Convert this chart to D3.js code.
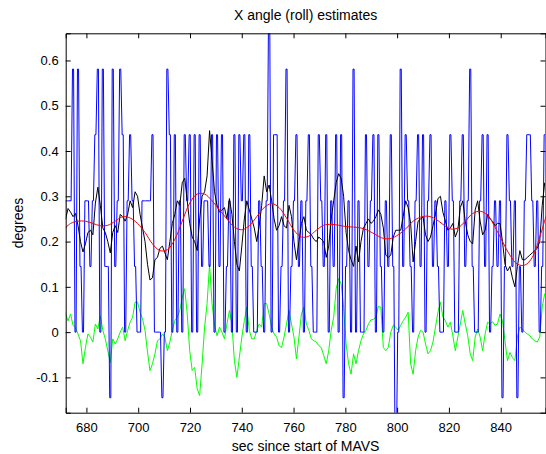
<!DOCTYPE html>
<html>
<head>
<meta charset="utf-8">
<script src="https://cdn.jsdelivr.net/npm/d3@7"></script>
<style>
  html, body { margin: 0; padding: 0; background: #fff; }
  svg { display: block; }
  text { font-family: "Liberation Sans", Arial, Helvetica, sans-serif; }
</style>
</head>
<body>
<svg id="chart" width="546" height="454"></svg>
<script>
// ---------------- data ----------------
const titleText = "X angle (roll) estimates";
const xLabelText = "sec since start of MAVS";
const yLabelText = "degrees";

const xTicks = [680, 700, 720, 740, 760, 780, 800, 820, 840];
const yTicks = [-0.1, 0, 0.1, 0.2, 0.3, 0.4, 0.5, 0.6];
const xRange = [672, 857.3];
const yRange = [-0.178, 0.66];

// sample timing of the raw / filtered series (seconds)
const sampleStart = 671.0;
const sampleStep = 0.9587;

// raw quantised estimate (blue)
const rawRoll = [
 0.145,0.29,0.29,0.29,0.581,0,0.581,0.145,0,0.29,
 0.29,0.145,0.29,0.436,0.581,0,0.581,0.145,0.145,-0.145,
 0.581,0.145,0.29,0.581,0.436,0,0.29,0.436,0.29,0.145,
 0,0,0.29,0.29,0.29,0.29,0.436,0,0,0,
 -0.145,0,0.581,0.436,0,0.436,0,0.29,0,0.436,
 0.29,0.436,0,0.436,0,0.436,0.145,0.29,0.29,0.145,
 0.436,0,0.436,0.145,0.436,0,0.145,0.29,0,0.436,
 0,0.436,0.29,0.436,0,0.436,0.145,0,0,0.29,
 0.145,0,0.29,0.726,0,0.436,0.436,0,0.145,0.29,
 0.581,0,0.145,0.29,0.436,0.145,0.29,0,0.29,0.436,
 0.145,0,0,0.436,0.29,0.145,0.436,0,0.29,0.145,
 0.436,0,0.436,-0.145,0.145,0.29,0,0.581,0,0.29,
 0,0,0.436,0.145,0.29,0.436,0,0.436,0.145,0,
 0.29,0.145,0.436,0.145,-0.29,0,0.581,0.145,0.436,0.29,
 0.145,0,0.29,0.436,0.145,0.436,0,0.29,0.436,0.145,
 0.29,0.145,0,0,0.29,0.145,0.436,0.29,0,0,
 0.29,0.436,0.145,0.29,0.581,0.145,0,0,0.29,0.436,
 0.145,0.436,0,0.145,0.29,0.145,0.29,-0.145,0.145,0.436,
 0.29,0.145,0.29,-0.145,0.145,0,0.29,0.436,0.436,0.29,
 0.145,0.29,0,0.145,0.436
];

// filtered estimate (black)
const filtRoll = [
 0.248,0.25,0.273,0.265,0.255,0.262,0.235,0.2,0.177,0.195,
 0.22,0.225,0.215,0.285,0.32,0.28,0.23,0.22,0.2,0.175,
 0.22,0.235,0.22,0.26,0.255,0.245,0.26,0.29,0.275,0.31,
 0.3,0.26,0.23,0.2,0.15,0.115,0.12,0.16,0.165,0.185,
 0.19,0.175,0.16,0.2,0.24,0.26,0.29,0.28,0.33,0.34,
 0.29,0.24,0.21,0.2,0.18,0.25,0.3,0.31,0.345,0.445,
 0.38,0.31,0.28,0.265,0.27,0.275,0.25,0.295,0.26,0.2,
 0.15,0.135,0.19,0.25,0.29,0.27,0.25,0.23,0.2,0.235,
 0.28,0.345,0.31,0.325,0.29,0.25,0.225,0.235,0.255,0.235,
 0.23,0.28,0.255,0.2,0.16,0.2,0.24,0.255,0.225,0.22,
 0.215,0.205,0.2,0.21,0.205,0.2,0.165,0.19,0.25,0.29,
 0.33,0.35,0.34,0.3,0.22,0.18,0.16,0.145,0.19,0.155,
 0.2,0.23,0.24,0.25,0.24,0.245,0.255,0.27,0.26,0.23,
 0.17,0.165,0.17,0.21,0.225,0.225,0.225,0.255,0.29,0.275,
 0.24,0.155,0.2,0.245,0.25,0.255,0.215,0.2,0.21,0.235,
 0.26,0.295,0.3,0.265,0.245,0.225,0.23,0.24,0.21,0.225,
 0.275,0.29,0.245,0.215,0.2,0.195,0.27,0.29,0.245,0.215,
 0.225,0.26,0.25,0.245,0.235,0.24,0.24,0.2,0.15,0.135,
 0.145,0.12,0.1,0.145,0.18,0.16,0.16,0.165,0.17,0.175,
 0.18,0.185,0.2,0.28,0.33
];

// difference / residual (green)
const residRoll = [
 0.055,0.04,0.025,0.04,0.015,0.01,-0.004,-0.019,-0.07,-0.034,
 -0.004,-0.011,-0.022,0.018,0.007,0.036,0.004,-0.015,-0.041,-0.067,
 -0.015,-0.026,-0.015,0,0.011,-0.019,0.004,0.022,0.033,0.066,
 0.066,0.044,0.029,0.004,-0.044,-0.085,-0.07,-0.048,-0.019,-0.015,
 -0.004,-0.011,-0.041,-0.022,0.004,0.025,0.033,0.048,0.077,0.096,
 0.04,-0.041,-0.085,-0.078,-0.125,-0.14,-0.07,0.011,0.063,0.15,
 0.063,0.015,-0.008,0.011,0,-0.015,0.018,0.048,0.018,-0.063,
 -0.1,-0.056,-0.011,0.025,0.055,0.004,-0.015,-0.015,0.004,0.018,
 0.011,0.063,0.063,0.04,0.011,-0.004,-0.011,-0.03,-0.034,-0.011,
 0.018,0.048,0.018,-0.011,-0.059,-0.011,0.04,0.055,0.018,0.004,
 -0.015,-0.019,-0.022,-0.03,-0.034,-0.052,-0.07,-0.041,0.004,0.033,
 0.096,0.118,0.107,0.055,-0.026,-0.07,-0.093,-0.048,-0.07,-0.041,
 -0.019,-0.004,0.004,0.018,0.027,0.028,0.033,0.057,0.055,-0.034,
 -0.041,-0.034,0,0.015,0.011,0.004,0.015,0.025,0.033,0.044,
 -0.07,-0.093,-0.041,-0.011,0.004,0,-0.026,-0.048,-0.041,-0.022,
 0.011,0.044,0.066,0.033,0.025,0.011,0.022,-0.008,-0.041,-0.011,
 0.018,0.048,0.018,-0.008,-0.048,-0.063,-0.011,0.007,-0.011,-0.041,
 -0.004,0.022,0.018,0.023,0.015,0.018,0.04,0.025,-0.019,-0.063,
 -0.045,-0.056,-0.063,-0.011,0.011,0.007,0,-0.004,-0.008,-0.015,
 -0.019,-0.022,-0.011,0.055,0.085
];

// smoothed estimate (red), one knot every 3 samples
const smoothRoll = [
 0.225,0.24,0.245,0.245,0.24,0.235,0.236,0.245,0.255,0.252,
 0.24,0.22,0.195,0.18,0.182,0.205,0.245,0.285,0.305,0.305,
 0.29,0.27,0.25,0.232,0.226,0.235,0.255,0.275,0.284,0.275,
 0.252,0.225,0.21,0.212,0.225,0.236,0.238,0.236,0.233,0.232,
 0.23,0.224,0.215,0.207,0.207,0.215,0.228,0.245,0.254,0.256,
 0.25,0.238,0.228,0.23,0.245,0.262,0.267,0.258,0.232,0.2,
 0.17,0.15,0.148,0.165,0.21,0.265
];
const smoothKnotEvery = 3;

// ---------------- drawing ----------------
const plot = { left: 65.7, right: 545.5, top: 33.3, bottom: 412.7 };

const svg = d3.select("#chart");
const x = d3.scaleLinear().domain(xRange).range([plot.left, plot.right]);
const y = d3.scaleLinear().domain(yRange).range([plot.bottom, plot.top]);

svg.append("defs").append("clipPath").attr("id", "clip")
  .append("rect")
  .attr("x", plot.left).attr("y", plot.top)
  .attr("width", plot.right - plot.left).attr("height", plot.bottom - plot.top);

const tOf = i => sampleStart + i * sampleStep;
const filtPts = filtRoll.map((v, i) => [tOf(i), v]);
const residPts = residRoll.map((v, i) => [tOf(i), v]);
const smoothPts = smoothRoll.map((v, k) => [tOf(k * smoothKnotEvery), v]);
// each raw sample is held for a short plateau around its sample time
const hold = 0.22 * sampleStep;
const rawPts = rawRoll.flatMap((v, i) => [[tOf(i) - hold, v], [tOf(i) + hold, v]]);

const g = svg.append("g").attr("clip-path", "url(#clip)");

const lineLin = d3.line().x(d => x(d[0])).y(d => y(d[1]));
const lineSmooth = d3.line().x(d => x(d[0])).y(d => y(d[1])).curve(d3.curveCatmullRom);

g.append("path").datum(residPts).attr("d", lineLin)
  .attr("fill", "none").attr("stroke", "#00ff00").attr("stroke-width", 1);
g.append("path").datum(rawPts).attr("d", lineLin)
  .attr("fill", "none").attr("stroke", "#0000ff").attr("stroke-width", 1)
  .attr("stroke-linejoin", "miter").attr("stroke-miterlimit", 2);
g.append("path").datum(filtPts).attr("d", lineLin)
  .attr("fill", "none").attr("stroke", "#000000").attr("stroke-width", 1);
g.append("path").datum(smoothPts).attr("d", lineSmooth)
  .attr("fill", "none").attr("stroke", "#ff0000").attr("stroke-width", 1);

// axes (MATLAB style: inward ticks, full box)
const fmtY = d => (Math.abs(d) < 1e-9 ? "0" : (d < 0 ? "-" : "") + Math.abs(d).toFixed(1));

const axB = svg.append("g").attr("transform", `translate(0,${plot.bottom})`)
  .call(d3.axisBottom(x).tickValues(xTicks).tickSize(-5).tickPadding(10).tickFormat(d3.format("d")));
const axT = svg.append("g").attr("transform", `translate(0,${plot.top})`)
  .call(d3.axisTop(x).tickValues(xTicks).tickSize(-5).tickFormat(""));
const axL = svg.append("g").attr("transform", `translate(${plot.left},0)`)
  .call(d3.axisLeft(y).tickValues(yTicks).tickSize(-5).tickPadding(7).tickFormat(fmtY));
const axR = svg.append("g").attr("transform", `translate(${plot.right},0)`)
  .call(d3.axisRight(y).tickValues(yTicks).tickSize(-5).tickFormat(""));

[axB, axT, axL, axR].forEach(a => {
  a.select(".domain").attr("stroke", "#000").attr("stroke-width", 1);
  a.selectAll(".tick line").attr("stroke", "#000");
  a.selectAll(".tick text").attr("fill", "#000").style("font-size", "13px")
    .style("font-family", "'Liberation Sans', Arial, sans-serif");
});

svg.append("text").attr("x", (plot.left + plot.right) / 2).attr("y", 20)
  .attr("text-anchor", "middle").style("font-size", "14px").attr("fill", "#000")
  .text(titleText);
svg.append("text").attr("x", (plot.left + plot.right) / 2).attr("y", 451)
  .attr("text-anchor", "middle").style("font-size", "14px").attr("fill", "#000")
  .text(xLabelText);
svg.append("text").attr("transform", `translate(23,${(plot.top + plot.bottom) / 2}) rotate(-90)`)
  .attr("text-anchor", "middle").style("font-size", "14px").attr("fill", "#000")
  .text(yLabelText);
</script>
</body>
</html>
